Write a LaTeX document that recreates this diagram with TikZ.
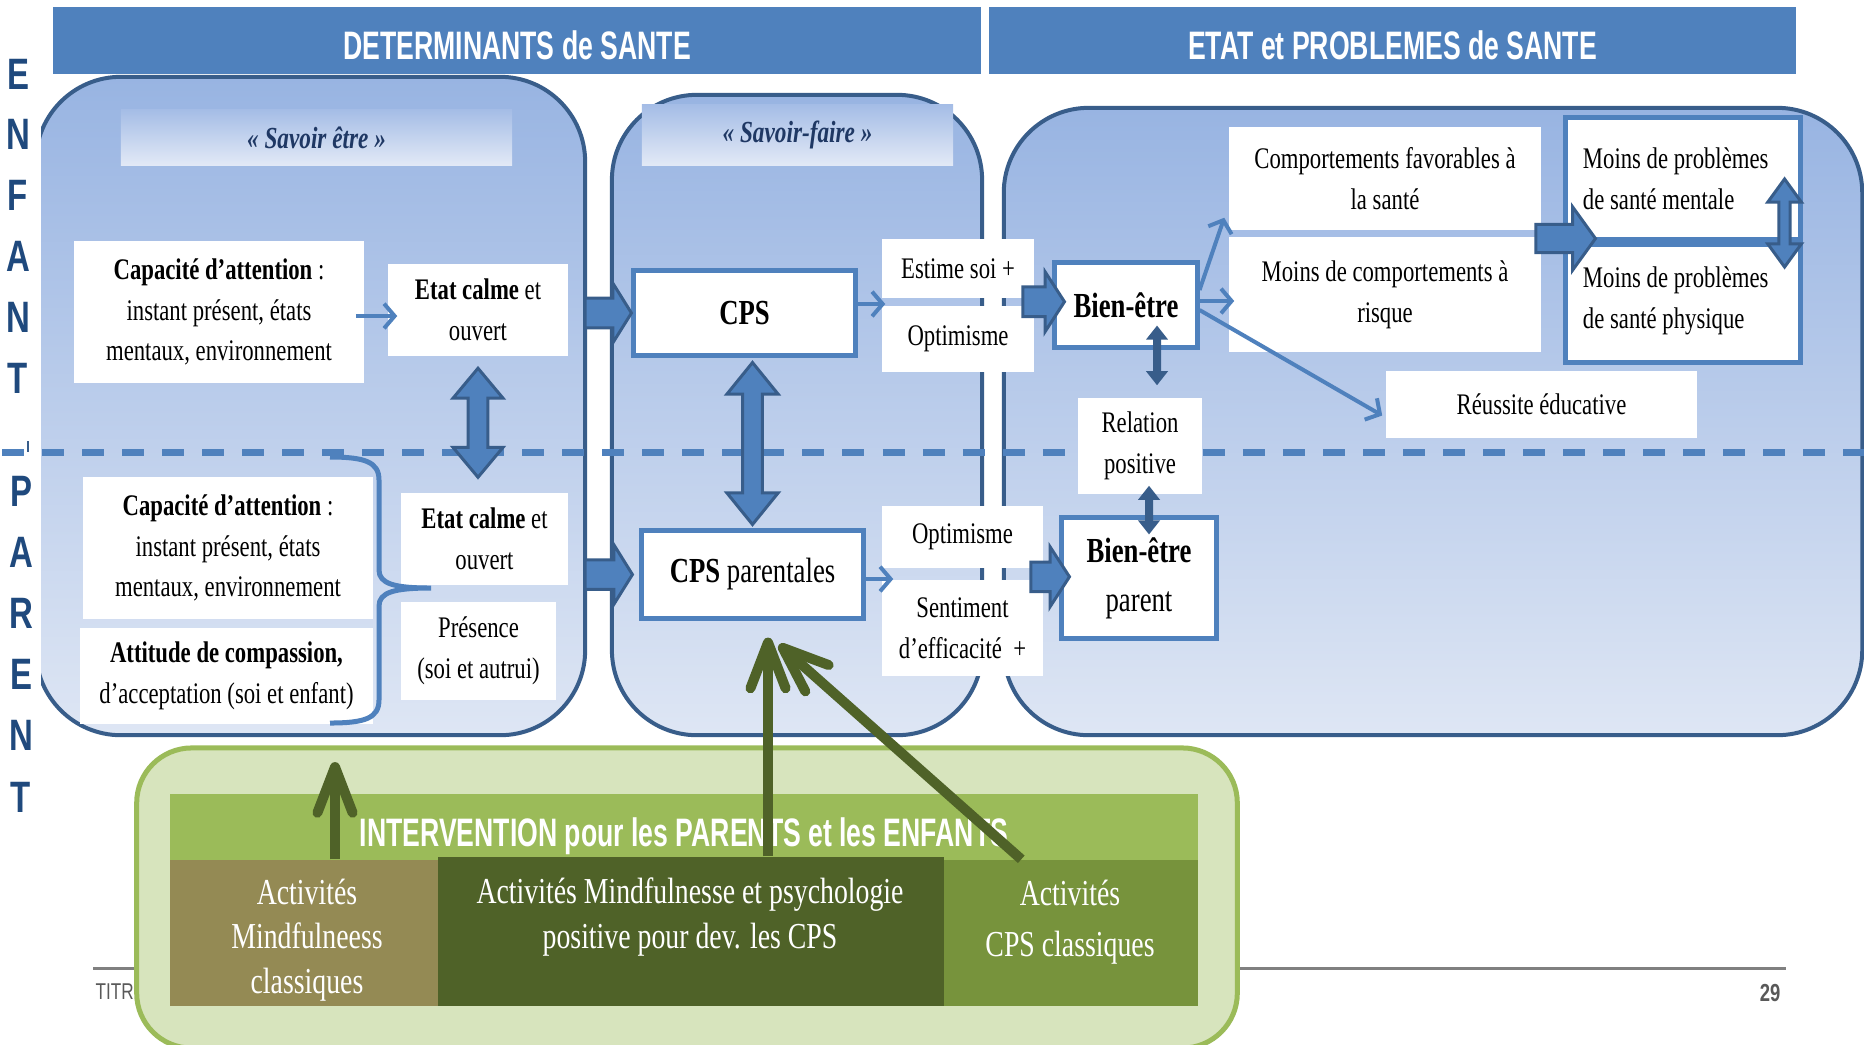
\documentclass[tikz,border=0pt]{standalone}
\usepackage{fontspec}
\setmainfont[FakeStretch=0.76]{Liberation Serif}
\newfontfamily\hfont[FakeStretch=0.67]{Liberation Sans}
\newfontfamily\lfont[FakeStretch=0.75]{Liberation Sans}
\usepackage{tikz}
\usetikzlibrary{arrows.meta,calc}

\definecolor{blueM}{RGB}{79,129,189}
\definecolor{blueD}{RGB}{56,93,138}
\definecolor{navyL}{RGB}{31,73,125}
\definecolor{navyT}{RGB}{31,56,100}
\definecolor{pTop}{RGB}{152,180,226}
\definecolor{pBot}{RGB}{222,230,244}
\definecolor{sTop}{RGB}{165,189,230}
\definecolor{sBot}{RGB}{226,233,246}
\definecolor{gLight}{RGB}{215,228,189}
\definecolor{gBorder}{RGB}{155,187,89}
\definecolor{gOlive}{RGB}{148,138,84}
\definecolor{gDark}{RGB}{79,98,40}
\definecolor{gMid}{RGB}{119,147,60}
\definecolor{grayF}{RGB}{89,89,89}

% fleche bloc horizontale : queue, pointe, demi-tige, demi-tete, longueur tete
\newcommand{\hblock}[5]{\draw[blockarr] let \p1=#1, \p2=#2 in
  (\x1,\y1+#3) -- (\x2-#5,\y1+#3) -- (\x2-#5,\y1+#4) -- (\x2,\y1)
  -- (\x2-#5,\y1-#4) -- (\x2-#5,\y1-#3) -- (\x1,\y1-#3) -- cycle;}
% fleche bloc double verticale : haut, bas, demi-tige, demi-tete, longueur tete
\newcommand{\vblock}[5]{\draw[blockarr] let \p1=#1, \p2=#2 in
  (\x1,\y1) -- (\x1+#4,\y1-#5) -- (\x1+#3,\y1-#5) -- (\x1+#3,\y2+#5) -- (\x1+#4,\y2+#5)
  -- (\x1,\y2) -- (\x1-#4,\y2+#5) -- (\x1-#3,\y2+#5) -- (\x1-#3,\y1-#5) -- (\x1-#4,\y1-#5) -- cycle;}

\begin{document}
\begin{tikzpicture}[x=0.01cm,y=-0.01cm]
  \tikzstyle{panel}=[draw=blueD, line width=0.04cm, rounded corners=0.85cm, top color=pTop, bottom color=pBot, inner sep=0pt, outer sep=0pt]
  \tikzstyle{hdbar}=[fill=blueM, inner sep=0pt, text=white, font=\hfont\bfseries\fontsize{11.3}{13}\selectfont]
  \tikzstyle{savoir}=[top color=sTop, bottom color=sBot, inner sep=0pt, text=navyT, font=\bfseries\itshape\fontsize{8.7}{11}\selectfont]
  \tikzstyle{wbox}=[fill=white, inner sep=0pt, align=center, font=\fontsize{8.5}{11.6}\selectfont]
  \tikzstyle{kbox}=[wbox, draw=blueM, line width=0.05cm, font=\fontsize{10}{14}\selectfont]
  \tikzstyle{sideltr}=[inner sep=0pt, text=navyL, font=\lfont\bfseries\fontsize{12.5}{14}\selectfont]
  \tikzstyle{gcell}=[inner sep=0pt]
  \tikzstyle{celltxt}=[inner sep=0pt, text=white, align=center, font=\fontsize{10.4}{12.6}\selectfont]
  \tikzstyle{thinarr}=[blueM, line width=0.04cm, -{Straight Barb[length=3pt,width=7pt]}]
  \tikzstyle{dblarr}=[blueD, line width=0.08cm, {Triangle[length=4pt,width=6pt]}-{Triangle[length=4pt,width=6pt]}]
  \tikzstyle{blockarr}=[fill=blueM, draw=blueD, line width=0.03cm]
  \tikzstyle{garr}=[gDark, line width=0.1cm, -{Straight Barb[length=13pt,width=10pt,round]}]

  \useasboundingbox (0,0) rectangle (1864,1044);

  % pied de page
  \draw[gray, line width=0.03cm] (93,968) -- (1786,968);
  \node[anchor=west, inner sep=0pt, text=grayF, font=\lfont\fontsize{6.5}{8}\selectfont] (titre) at (95,992) {TITR};
  \node[inner sep=0pt, text=grayF, font=\lfont\bfseries\fontsize{7}{8}\selectfont] (page) at (1770,993) {29};

  % bandeaux
  \node[hdbar, minimum width=9.28cm, minimum height=0.67cm, text height=0.39cm] (hdL) at (517,40.5) {DETERMINANTS de SANTE};
  \node[hdbar, minimum width=8.07cm, minimum height=0.67cm, text height=0.39cm] (hdR) at (1392.5,40.5) {ETAT et PROBLEMES de SANTE};

  % panneaux
  \node[panel, minimum width=5.49cm, minimum height=6.58cm] (p1) at (310.5,406) {};
  \node[panel, minimum width=3.70cm, minimum height=6.40cm] (p2) at (797,415) {};
  \node[panel, minimum width=8.58cm, minimum height=6.27cm] (p3) at (1433,421.5) {};
  \fill[white] (0,120) rectangle (41,690);

  % separation enfant / parent
  \draw[blueM, line width=0.07cm, dash pattern=on 0.22cm off 0.18cm] (2,452) -- (1864,452);
  \draw[blueD, line width=0.025cm] (28,441) -- (28,452);

  \node[savoir, minimum width=3.91cm, minimum height=0.55cm] (savE) at (316.5,137.5) {« Savoir être »};
  \node[savoir, minimum width=3.11cm, minimum height=0.60cm] (savF) at (797.5,135) {« Savoir-faire »};

  % enfant
  \node[wbox, minimum width=2.90cm, minimum height=1.41cm] (capE) at (219,312) {{\bfseries Capacité d’attention} :\\instant présent, états\\mentaux, environnement};
  \node[wbox, minimum width=1.80cm, minimum height=0.91cm] (etatE) at (478,310) {{\bfseries Etat calme} et\\ouvert};
  \node[kbox, minimum width=2.21cm, minimum height=0.84cm] (cps) at (744.5,313) {\bfseries CPS};
  \node[wbox, minimum width=1.52cm, minimum height=0.59cm] (estime) at (958,268.5) {Estime soi +};
  \node[wbox, minimum width=1.52cm, minimum height=0.66cm] (optE) at (958,339) {Optimisme};
  \node[kbox, minimum width=1.42cm, minimum height=0.84cm] (bienE) at (1126,305) {\bfseries Bien-être};
  \node[wbox, minimum width=3.12cm, minimum height=1.03cm] (comp) at (1385,178.5) {Comportements favorables à\\la santé};
  \node[wbox, minimum width=3.12cm, minimum height=1.15cm] (moinsc) at (1385,294.5) {Moins de comportements à\\risque};
  \node[wbox, minimum width=3.11cm, minimum height=0.67cm] (reuss) at (1541.5,404.5) {Réussite éducative};
  \node[wbox, draw=blueM, line width=0.05cm, minimum width=2.34cm, minimum height=1.22cm, text width=2.0cm, align=flush left] (mm) at (1683,179) {Moins de problèmes\\de santé mentale};
  \node[wbox, draw=blueM, line width=0.05cm, minimum width=2.34cm, minimum height=1.22cm, text width=2.0cm, align=flush left] (mp) at (1683,301) {Moins de problèmes\\de santé physique};
  \draw[blueM, line width=0.08cm] (mm.south west) -- (mm.south east);
  \node[wbox, minimum width=1.24cm, minimum height=0.95cm] (rel) at (1140,446) {Relation\\positive};

  % parent
  \node[wbox, minimum width=2.90cm, minimum height=1.41cm] (capP) at (228,548) {{\bfseries Capacité d’attention} :\\instant présent, états\\mentaux, environnement};
  \node[wbox, minimum width=2.93cm, minimum height=0.96cm] (attP) at (226.5,676) {{\bfseries Attitude de compassion,}\\d’acceptation (soi et enfant)};
  \node[wbox, minimum width=1.67cm, minimum height=0.92cm] (etatP) at (484.5,539) {{\bfseries Etat calme} et\\ouvert};
  \node[wbox, minimum width=1.55cm, minimum height=0.98cm] (presP) at (478.5,651) {Présence\\(soi et autrui)};
  \node[kbox, minimum width=2.21cm, minimum height=0.87cm] (cpsP) at (752.5,574.5) {{\bfseries CPS} parentales};
  \node[wbox, minimum width=1.61cm, minimum height=0.62cm] (optP) at (962.5,537) {Optimisme};
  \node[wbox, minimum width=1.61cm, minimum height=0.95cm] (sent) at (962.5,628) {Sentiment\\d’efficacité~ +};
  \node[kbox, minimum width=1.54cm, minimum height=1.20cm] (bienP) at (1139,578) {{\bfseries Bien-être}\\parent};

  % accolade
  \draw[blueM, line width=0.05cm] (330,457) .. controls (365,457) and (379,462) .. (379,480) -- (379,570)
    .. controls (379,584) and (395,588) .. (431,588) .. controls (395,588) and (379,592) .. (379,606)
    -- (379,700) .. controls (379,718) and (365,723) .. (330,723);

  % fleches fines
  \draw[thinarr] ([xshift=-0.09cm,yshift=-0.04cm]capE.east) -- ([xshift=0.1cm,yshift=-0.04cm]capE.east -| etatE.west);
  \draw[thinarr] ([yshift=0.09cm]cps.east) -- ([xshift=0.04cm,yshift=0.09cm]cps.east -| estime.west);
  \draw[thinarr] ([yshift=-0.045cm]cpsP.east) -- ([xshift=0.12cm,yshift=-0.045cm]cpsP.east -| optP.west);
  \draw[thinarr] ([yshift=0.15cm]bienE.east) -- ([xshift=-0.04cm,yshift=0.13cm]comp.south west);
  \draw[thinarr] ([yshift=0.04cm]bienE.east) -- ([xshift=0.06cm,yshift=0.04cm]bienE.east -| moinsc.west);
  \draw[thinarr] ([yshift=-0.05cm]bienE.east) -- ([xshift=-0.03cm,yshift=-0.11cm]reuss.west);
  \draw[dblarr] ([xshift=0.31cm,yshift=0.24cm]bienE.south) -- ([xshift=0.17cm,yshift=0.125cm]rel.north);
  \draw[dblarr] ([xshift=0.09cm,yshift=0.085cm]rel.south) -- ([xshift=0.1cm,yshift=-0.19cm]bienP.north);

  % fleches blocs
  \hblock{(p1.east |- cps.center)}{(cps.west)}{4.2pt}{8.5pt}{5.3pt}
  \hblock{(p1.east |- cpsP.center)}{([xshift=-0.07cm]cpsP.west)}{4.2pt}{8.5pt}{5.3pt}
  \hblock{([xshift=-0.12cm,yshift=-0.03cm]estime.south east)}{([xshift=0.12cm]bienE.west)}{4.2pt}{8.5pt}{5.5pt}
  \hblock{([xshift=-0.13cm,yshift=0.03cm]sent.north east)}{([xshift=0.1cm]bienP.west)}{4.2pt}{8.5pt}{5.5pt}
  \coordinate (cm) at ($(comp.south east)!0.5!(moinsc.north east)$);
  \hblock{([xshift=-0.06cm,yshift=-0.05cm]cm)}{([xshift=0.32cm]mm.south west)}{4pt}{9pt}{6.5pt}
  \vblock{([yshift=-0.12cm]etatE.south)}{([yshift=0.15cm]etatE.south |- etatP.north)}{2.8pt}{7.1pt}{8.5pt}
  \vblock{([yshift=-0.05cm]cpsP.north |- cps.south)}{([yshift=0.04cm]cpsP.north)}{2.8pt}{7.3pt}{9pt}
  \vblock{([xshift=-0.18cm]mm.east)}{([xshift=-0.18cm,yshift=0.34cm]mp.center)}{1.6pt}{4.8pt}{6.6pt}

  % lettres laterales
  \foreach \l [count=\i] in {E,N,F,A,N,T}
    \node[sideltr] (enf\i) at (18,{74+60.8*(\i-1)}) {\l};
  \foreach \l [count=\i] in {P,A,R,E,N,T}
    \node[sideltr] (par\i) at (21,{491+61.2*(\i-1)}) {\l};

  % intervention
  \node[draw=gBorder, line width=0.05cm, fill=gLight, rounded corners=0.55cm, minimum width=11.00cm, minimum height=3.00cm, inner sep=0pt] (gbox) at (687,898) {};
  \node[hdbar, fill=gBorder, minimum width=10.28cm, minimum height=0.66cm, text height=0.48cm] (band) at (684,827) {INTERVENTION pour les PARENTS et les ENFANTS};
  \node[gcell, fill=gOlive, minimum width=2.68cm, minimum height=1.46cm] (c1) at (304,933) {};
  \node[gcell, fill=gDark, minimum width=5.06cm, minimum height=1.49cm] (c2) at (691,931.5) {};
  \node[gcell, fill=gMid, minimum width=2.54cm, minimum height=1.46cm] (c3) at (1071,933) {};
  \node[celltxt] (c1t) at (307,940) {Activités\\Mindfulneess\\classiques};
  \node[celltxt] (c2t) at (690,917) {Activités Mindfulnesse et psychologie\\positive pour dev. les CPS};
  \node[celltxt, font=\fontsize{10.4}{14.4}\selectfont] (c3t) at (1070,922) {Activités\\CPS classiques};

  % fleches vertes
  \coordinate (t1) at (335,762);
  \coordinate (t2) at ([xshift=0.155cm,yshift=-0.17cm]cpsP.south);
  \coordinate (t3) at ([xshift=0.265cm,yshift=-0.24cm]cpsP.south);
  \draw[garr] (c1.north -| t1) -- (t1);
  \draw[garr] (c2.north -| t2) -- (t2);
  \draw[garr] ([xshift=0.78cm]c3.north west) -- (t3);
\end{tikzpicture}
\end{document}
